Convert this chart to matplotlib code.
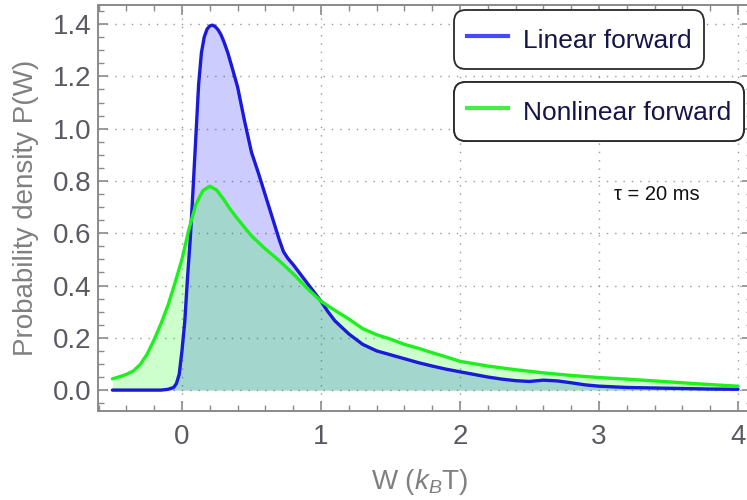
import matplotlib
matplotlib.use("Agg")
import matplotlib.pyplot as plt
from matplotlib.lines import Line2D
from matplotlib.ticker import MultipleLocator

plt.rcParams['font.family'] = ['Liberation Sans', 'DejaVu Sans']
plt.rcParams['mathtext.fontset'] = 'custom'
plt.rcParams['mathtext.rm'] = 'Liberation Sans'
plt.rcParams['mathtext.it'] = 'Liberation Sans:italic'

# Work distribution, linear protocol
w_lin = [-0.5, -0.3, -0.15, -0.1, -0.06, -0.04, -0.02, 0.0, 0.02, 0.04, 0.06,
         0.08, 0.10, 0.12, 0.14, 0.16, 0.18, 0.20, 0.22, 0.24, 0.26, 0.28, 0.30,
         0.33, 0.36, 0.40, 0.45, 0.50, 0.55, 0.60, 0.65, 0.70, 0.73, 0.76, 0.80,
         0.85, 0.90, 0.95, 1.00, 1.05, 1.10, 1.15, 1.20, 1.30, 1.40, 1.50, 1.60,
         1.70, 1.80, 1.90, 2.00, 2.10, 2.20, 2.30, 2.40, 2.50, 2.60, 2.70, 2.80,
         2.90, 3.00, 3.20, 3.40, 3.60, 3.80, 4.00]
p_lin = [0.0, 0.0, 0.0, 0.003, 0.01, 0.025, 0.06, 0.15, 0.26, 0.43, 0.58,
         0.77, 0.97, 1.17, 1.29, 1.35, 1.38, 1.393, 1.396, 1.39, 1.378, 1.36, 1.335,
         1.29, 1.235, 1.16, 1.03, 0.91, 0.83, 0.745, 0.66, 0.575, 0.53, 0.505, 0.48,
         0.445, 0.41, 0.375, 0.34, 0.30, 0.265, 0.24, 0.215, 0.175, 0.15, 0.135,
         0.12, 0.105, 0.092, 0.08, 0.07, 0.06, 0.05, 0.042, 0.036, 0.033, 0.038,
         0.035, 0.028, 0.02, 0.015, 0.01, 0.008, 0.006, 0.004, 0.003]

# Work distribution, nonlinear protocol
w_nl = [-0.5, -0.45, -0.4, -0.35, -0.3, -0.25, -0.2, -0.15, -0.1, -0.05, 0.0,
        0.05, 0.1, 0.15, 0.2, 0.25, 0.3, 0.35, 0.4, 0.5, 0.6, 0.7, 0.8, 0.9, 1.0,
        1.1, 1.2, 1.3, 1.4, 1.5, 1.6, 1.7, 1.8, 1.9, 2.0, 2.2, 2.4, 2.6, 2.8, 3.0,
        3.2, 3.4, 3.6, 3.8, 4.0]
p_nl = [0.043, 0.051, 0.06, 0.073, 0.098, 0.138, 0.193, 0.255, 0.325, 0.41, 0.50,
        0.615, 0.71, 0.763, 0.78, 0.765, 0.73, 0.69, 0.655, 0.59, 0.54, 0.495,
        0.445, 0.39, 0.34, 0.305, 0.272, 0.235, 0.212, 0.195, 0.175, 0.16, 0.143,
        0.127, 0.11, 0.092, 0.078, 0.066, 0.056, 0.048, 0.042, 0.035, 0.028,
        0.021, 0.015]

series_labels = ["Linear forward", "Nonlinear forward"]
annotation = "τ = 20 ms"
x_ticks = [0, 1, 2, 3, 4]
y_ticks = [0.0, 0.2, 0.4, 0.6, 0.8, 1.0, 1.2, 1.4]

blue_line = '#1a1ad8'
green_line = '#1ef01e'
frame_col = '#8a8a8a'
label_col = '#5a5a62'

fig = plt.figure(figsize=(7.47, 5.0), dpi=100)
ax = fig.add_axes([98 / 747, 89 / 500, (751.9 - 98) / 747, 406 / 500])

ax.fill_between(w_lin, 0, p_lin, color=(0, 0, 1), alpha=0.2, linewidth=0)
ax.fill_between(w_nl, 0, p_nl, color=(0, 1, 0), alpha=0.2, linewidth=0)
ax.plot(w_lin, p_lin, color=blue_line, lw=2.4, solid_capstyle='round',
        solid_joinstyle='round')
ax.plot(w_nl, p_nl, color=green_line, lw=2.4, solid_capstyle='round',
        solid_joinstyle='round')

ax.set_xlim(-0.604, 4.1)
ax.set_ylim(-0.080, 1.473)
ax.set_xticks(x_ticks)
ax.set_xticklabels([str(t) for t in x_ticks])
ax.set_yticks(y_ticks)
ax.set_yticklabels([f"{t:.1f}" for t in y_ticks])
ax.xaxis.set_minor_locator(MultipleLocator(0.2))
ax.yaxis.set_minor_locator(MultipleLocator(0.05))

ax.tick_params(which='both', direction='in', top=True, right=True,
               color=frame_col, labelcolor=label_col, labelsize=20)
ax.tick_params(which='major', length=7, width=1.2)
ax.tick_params(which='minor', length=4, width=1.0)
ax.tick_params(axis='y', pad=5)
ax.tick_params(axis='x', pad=9)
for s in ax.spines.values():
    s.set_color(frame_col)
    s.set_linewidth(1.4)

ax.grid(True, which='major', linestyle=(0, (1, 5)), color='#9a9a9a', linewidth=1.0)
ax.set_axisbelow(True)

ax.set_ylabel("Probability density P(W)", fontsize=20, color='#808080')
ax.set_xlabel("W ($k_B$T)", fontsize=20, color='#808080')
ax.xaxis.set_label_coords(0.492, -0.138)
ax.yaxis.set_label_coords(-0.09, 0.5)

ax.text(3.108, 0.748, annotation, fontsize=14.5, color='#111111',
        va='center', ha='left')

# Two separate framed legend entries
anchors = [(454 / 747, 1 - 10 / 500), (454 / 747, 1 - 82 / 500)]
for lbl, col, anc in zip(series_labels, ['#4848ff', '#44ee44'], anchors):
    h = Line2D([], [], color=col, lw=3)
    leg = ax.legend([h], [lbl], loc='upper left', bbox_to_anchor=anc,
                    bbox_transform=fig.transFigure, borderaxespad=0,
                    fontsize=19, handlelength=1.55, handletextpad=0.55,
                    handleheight=1.5, borderpad=0.5, frameon=True,
                    fancybox=True, framealpha=1,
                    facecolor='white', edgecolor='#2a2a2a')
    leg.get_frame().set_linewidth(1.3)
    leg.get_frame().set_boxstyle('round', pad=0, rounding_size=0.45)
    for t in leg.get_texts():
        t.set_color('#15154a')
    ax.add_artist(leg)

fig.savefig("out.png", dpi=100)
